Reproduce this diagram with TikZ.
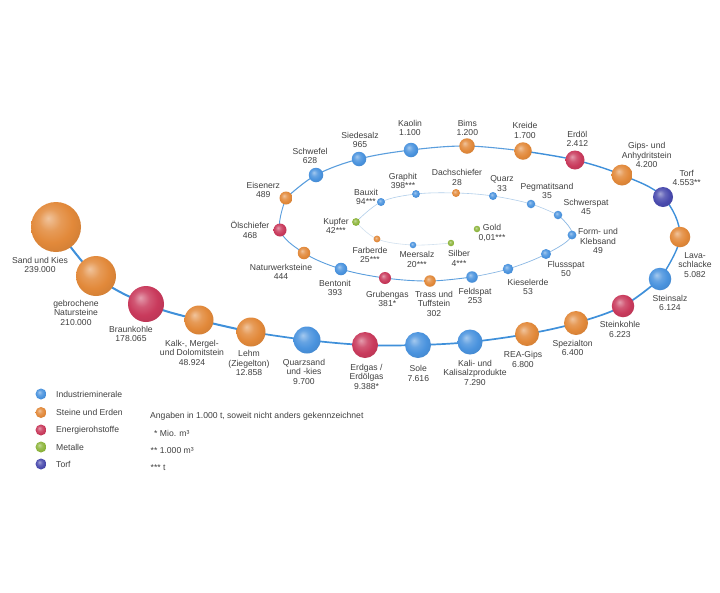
\documentclass[tikz,border=0pt]{standalone}
\usepackage{fontspec}
\setmainfont{Liberation Sans}
\usetikzlibrary{backgrounds}
\definecolor{indc}{HTML}{4A93DE}
\definecolor{stec}{HTML}{E2893A}
\definecolor{enec}{HTML}{C93A5C}
\definecolor{metc}{HTML}{8DB53C}
\definecolor{torc}{HTML}{4A4BAE}
\definecolor{txtc}{HTML}{404040}
\definecolor{lnA}{HTML}{3F90DA}
\definecolor{lnB}{HTML}{5A9EDD}
\definecolor{lnC}{HTML}{8AB8E4}
\definecolor{lnD}{HTML}{B2CFEB}
\definecolor{lnE}{HTML}{D2E1EF}
\colorlet{ballc}{indc}
\pgfdeclareradialshading[ballc]{myball}{\pgfqpoint{-8bp}{9bp}}{color(0bp)=(ballc!50!white); color(11bp)=(ballc!85!white); color(21bp)=(ballc); color(34bp)=(ballc!90!black); color(50bp)=(ballc!80!black)}
\tikzset{
  bl/.style={circle, inner sep=0pt, minimum size=#1, shade, shading=myball},
  ind/.style={/utils/exec={\colorlet{ballc}{indc}}},
  ste/.style={/utils/exec={\colorlet{ballc}{stec}}},
  ene/.style={/utils/exec={\colorlet{ballc}{enec}}},
  met/.style={/utils/exec={\colorlet{ballc}{metc}}},
  tor/.style={/utils/exec={\colorlet{ballc}{torc}}},
  lbl/.style={align=center, inner sep=0pt, text=txtc, font=\fontsize{8.6}{9.5}\selectfont},
  lgd/.style={anchor=west, inner sep=0pt, text=txtc, font=\fontsize{8.6}{9.5}\selectfont},
  sp/.style={line cap=round, line join=round},
}
\begin{document}
\begin{tikzpicture}[x=1pt,y=-1pt]
\begin{pgfonlayer}{background}
\fill[white] (0,0) rectangle (720,592);
\end{pgfonlayer}
\useasboundingbox (0,0) rectangle (720,592);

% balls
\node[bl=50pt,ste] (sand) at (56,227) {};
\node[bl=40pt,ste] (gebr) at (96,276) {};
\node[bl=36pt,ene] (braun) at (146,304) {};
\node[bl=29pt,ste] (kalk) at (199,320) {};
\node[bl=29pt,ste] (lehm) at (251,332) {};
\node[bl=27pt,ind] (quarzsand) at (307,340) {};
\node[bl=26pt,ene] (erdgas) at (365,345) {};
\node[bl=26pt,ind] (sole) at (418,345) {};
\node[bl=25pt,ind] (kali) at (470,342) {};
\node[bl=24pt,ste] (rea) at (527,334) {};
\node[bl=24pt,ste] (spez) at (576,323) {};
\node[bl=22.5pt,ene] (steink) at (623,306) {};
\node[bl=22.5pt,ind] (steins) at (660,279) {};
\node[bl=20.5pt,ste] (lava) at (680,237) {};
\node[bl=20pt,tor] (torf) at (663,197) {};
\node[bl=21pt,ste] (gips) at (622,175) {};
\node[bl=19pt,ene] (erdoel) at (575,160) {};
\node[bl=17.5pt,ste] (kreide) at (523,151) {};
\node[bl=15.5pt,ste] (bims) at (467,146) {};
\node[bl=14.5pt,ind] (kaolin) at (411,150) {};
\node[bl=14.5pt,ind] (sieds) at (359,159) {};
\node[bl=14.5pt,ind] (schwefel) at (316,175) {};
\node[bl=13pt,ste] (eisenerz) at (286,198) {};
\node[bl=13pt,ene] (oelsch) at (280,230) {};
\node[bl=12.5pt,ste] (naturw) at (304,253) {};
\node[bl=12.5pt,ind] (bentonit) at (341,269) {};
\node[bl=12pt,ene] (gruben) at (385,278) {};
\node[bl=11.5pt,ste] (trass) at (430,281) {};
\node[bl=11.5pt,ind] (feldspat) at (472,277) {};
\node[bl=10.5pt,ind] (kiesel) at (508,269) {};
\node[bl=10pt,ind] (fluss) at (546,254) {};
\node[bl=8.8pt,ind] (form) at (572,235) {};
\node[bl=8.5pt,ind] (schwer) at (558,215) {};
\node[bl=8.5pt,ind] (pegm) at (531,204) {};
\node[bl=8pt,ind] (quarz) at (493,196) {};
\node[bl=8pt,ste] (dach) at (456,193) {};
\node[bl=7.8pt,ind] (graphit) at (416,194) {};
\node[bl=8pt,ind] (bauxit) at (381,202) {};
\node[bl=7.8pt,met] (kupfer) at (356,222) {};
\node[bl=6.8pt,ste] (farberde) at (377,239) {};
\node[bl=6.5pt,ind] (meersalz) at (413,245) {};
\node[bl=6.5pt,met] (silber) at (451,243) {};
\node[bl=6.5pt,met] (gold) at (477,229) {};

% spiral connector
\begin{pgfonlayer}{background}
\draw[sp,lnA,line width=2pt] plot[smooth,tension=0.6] coordinates {(sand.center) (gebr.center) (braun.center) (kalk.center) (lehm.center)};
\draw[sp,lnA,line width=1.7pt] plot[smooth,tension=0.6] coordinates {(lehm.center) (quarzsand.center) (erdgas.center) (sole.center) (kali.center) (rea.center) (spez.center) (steink.center) (steins.center)};
\draw[sp,lnA,line width=1.4pt] plot[smooth,tension=0.6] coordinates {(steins.center) (lava.center) (torf.center) (gips.center) (erdoel.center) (kreide.center)};
\draw[sp,lnB,line width=1.1pt] plot[smooth,tension=0.6] coordinates {(kreide.center) (bims.center) (kaolin.center) (sieds.center) (schwefel.center) (eisenerz.center)};
\draw[sp,lnB,line width=0.9pt] plot[smooth,tension=0.6] coordinates {(eisenerz.center) (oelsch.center) (naturw.center) (bentonit.center) (gruben.center) (trass.center) (feldspat.center)};
\draw[sp,lnC,line width=0.7pt] plot[smooth,tension=0.6] coordinates {(feldspat.center) (kiesel.center) (fluss.center) (form.center) (schwer.center)};
\draw[sp,lnD,line width=0.6pt] plot[smooth,tension=0.6] coordinates {(schwer.center) (pegm.center) (quarz.center) (dach.center) (graphit.center) (bauxit.center) (kupfer.center)};
\draw[sp,lnE,line width=0.6pt] plot[smooth,tension=0.6] coordinates {(kupfer.center) (farberde.center) (meersalz.center) (silber.center)};
\end{pgfonlayer}

% labels
\node[lbl] (lsand) at (40,265) {Sand und Kies\\239.000};
\node[lbl] (lgebr) at (76,312.7) {gebrochene\\Natursteine\\210.000};
\node[lbl] (lbraun) at (131,334) {Braunkohle\\178.065};
\node[lbl] (lkalk) at (192,352.7) {Kalk-, Mergel-\\und Dolomitstein\\48.924};
\node[lbl] (llehm) at (249,363) {Lehm\\(Ziegelton)\\12.858};
\node[lbl] (lquarzsand) at (304,371.7) {Quarzsand\\und -kies\\9.700};
\node[lbl] (lerdgas) at (366.5,376.5) {Erdgas /\\Erdölgas\\9.388*};
\node[lbl] (lsole) at (418.3,373.3) {Sole\\7.616};
\node[lbl] (lkali) at (475,372.7) {Kali- und\\Kalisalzprodukte\\7.290};
\node[lbl] (lrea) at (523,359.5) {REA-Gips\\6.800};
\node[lbl] (lspez) at (572.7,348) {Spezialton\\6.400};
\node[lbl] (lsteink) at (620,329.5) {Steinkohle\\6.223};
\node[lbl] (lsteins) at (670,303) {Steinsalz\\6.124};
\node[lbl] (llava) at (695,264.7) {Lava-\\schlacke\\5.082};
\node[lbl] (ltorf) at (686.7,178) {Torf\\4.553**};
\node[lbl] (lgips) at (646.7,155.3) {Gips- und\\Anhydritstein\\4.200};
\node[lbl] (lerdoel) at (577.3,138.7) {Erdöl\\2.412};
\node[lbl] (lkreide) at (525,130.5) {Kreide\\1.700};
\node[lbl] (lbims) at (467.3,128) {Bims\\1.200};
\node[lbl] (lkaolin) at (410,128) {Kaolin\\1.100};
\node[lbl] (lsieds) at (360,140) {Siedesalz\\965};
\node[lbl] (lschwefel) at (310,156) {Schwefel\\628};
\node[lbl] (leisenerz) at (263.3,189.7) {Eisenerz\\489};
\node[lbl] (loelsch) at (250,229.7) {Ölschiefer\\468};
\node[lbl] (lnaturw) at (281,272) {Naturwerksteine\\444};
\node[lbl] (lbentonit) at (335,288) {Bentonit\\393};
\node[lbl] (lgruben) at (387.3,299) {Grubengas\\381*};
\node[lbl] (ltrass) at (434,303.7) {Trass und\\Tuffstein\\302};
\node[lbl] (lfeldspat) at (475,296) {Feldspat\\253};
\node[lbl] (lkiesel) at (528,287) {Kieselerde\\53};
\node[lbl] (lfluss) at (566,268.7) {Flussspat\\50};
\node[lbl] (lform) at (598,241) {Form- und\\Klebsand\\49};
\node[lbl] (lschwer) at (586,207) {Schwerspat\\45};
\node[lbl] (lpegm) at (547,191) {Pegmatitsand\\35};
\node[lbl] (lquarz) at (502,183.7) {Quarz\\33};
\node[lbl] (ldach) at (457,177.3) {Dachschiefer\\28};
\node[lbl] (lgraphit) at (403,180.7) {Graphit\\398***};
\node[lbl] (lbauxit) at (366,196.7) {Bauxit\\94***};
\node[lbl] (lkupfer) at (336,226) {Kupfer\\42***};
\node[lbl] (lfarberde) at (370,254.7) {Farberde\\25***};
\node[lbl] (lmeersalz) at (417,259.5) {Meersalz\\20***};
\node[lbl] (lsilber) at (459,258.3) {Silber\\4***};
\node[lbl] (lgold) at (492,232.8) {Gold\\0,01***};

% legend
\node[bl=11pt,ind] (gind) at (41,394) {};
\node[bl=11pt,ste] (gste) at (41,412.5) {};
\node[bl=11pt,ene] (gene) at (41,430) {};
\node[bl=11pt,met] (gmet) at (41,447) {};
\node[bl=11pt,tor] (gtor) at (41,464) {};
\node[lgd] (tind) at (56,394) {Industrieminerale};
\node[lgd] (tste) at (56,412.5) {Steine und Erden};
\node[lgd] (tene) at (56,430) {Energierohstoffe};
\node[lgd] (tmet) at (56,447) {Metalle};
\node[lgd] (ttor) at (56,464) {Torf};

\node[lgd] (n0) at (150,416) {Angaben in 1.000 t, soweit nicht anders gekennzeichnet};
\node[lgd] (n1) at (154,433) {* Mio. m³};
\node[lgd] (n2) at (150.5,451) {** 1.000 m³};
\node[lgd] (n3) at (150.5,468) {*** t};
\end{tikzpicture}
\end{document}
